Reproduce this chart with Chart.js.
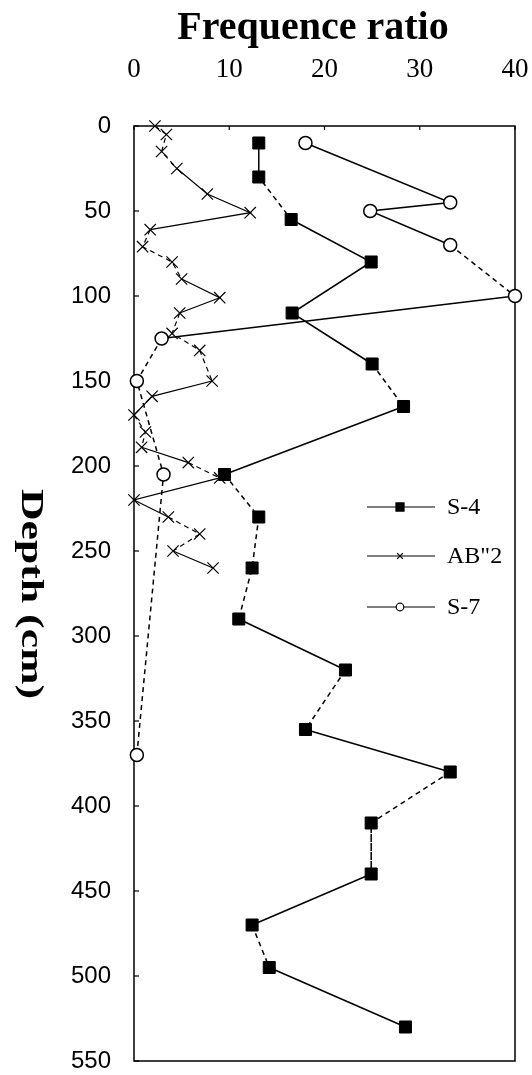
<!DOCTYPE html>
<html><head><meta charset="utf-8">
<script src="https://cdn.jsdelivr.net/npm/chart.js@4/dist/chart.umd.min.js"></script>
<style>html,body{margin:0;padding:0;background:#fff;} #wrap{width:532px;height:1075px;position:relative;}</style>
</head><body><div id="wrap"><canvas id="c" width="532" height="1075"></canvas></div>
<script>
// ---- data ----
const seriesNames = ['S-4', 'AB"2', 'S-7'];
const s4Depth = [10,30,55,80,110,140,165,205,230,260,290,320,355,380,410,440,470,495,530];
const s4Ratio = [13.1,13.1,16.5,24.9,16.6,25.0,28.3,9.5,13.1,12.4,11.0,22.2,18.0,33.2,24.9,24.9,12.4,14.2,28.5];
const ab2Depth = [0,5,15,25,40,51,61,71,80,90,101,110,122,132,150,159,170,180,189,198,207,220,230,240,250,260];
const ab2Ratio = [2.2,3.4,2.9,4.5,7.7,12.2,1.7,0.9,4.0,5.0,9.0,4.8,4.0,6.9,8.2,1.9,0,1.2,0.8,5.7,9.0,0,3.6,6.9,4.1,8.3];
const s7Depth = [10,45,50,70,100,125,150,205,370];
const s7Ratio = [18.0,33.2,24.8,33.2,40,2.9,0.3,3.1,0.3];
const xTicks = [0,10,20,30,40];
const yTicks = [0,50,100,150,200,250,300,350,400,450,500,550];
const xTitle = 'Frequence ratio';
const yTitle = 'Depth (cm)';

// ---- styles (segment dash patterns as in the scan) ----
const s4Dashed = [0,1,5,7,8,9,11,13,14,16];
const ab2Dashed = [0,1,2,6,7,8,11,12,13,16,17,19,22,23];
const s7Dashed = [3,5,6,7];

function pts(xs, ys){ return xs.map((v,i)=>({x:v, y:ys[i]})); }
function dashFn(list){ return ctx => list.includes(ctx.p0DataIndex) ? [5,4] : undefined; }

const datasets = [
  { label: seriesNames[2], data: pts(s7Ratio, s7Depth), borderColor:'#000', borderWidth:1.5,
    pointStyle:'circle', pointRadius:6.5, pointBackgroundColor:'#fff', pointBorderColor:'#000', pointBorderWidth:1.5,
    showLine:true, clip:false, segment:{borderDash: dashFn(s7Dashed)}, legendY: 607, legendR: 3.8 },
  { label: seriesNames[1], data: pts(ab2Ratio, ab2Depth), borderColor:'#000', borderWidth:1.2,
    pointStyle:'crossRot', pointRadius:8, pointBackgroundColor:'#000', pointBorderColor:'#000', pointBorderWidth:1.2,
    showLine:true, clip:false, segment:{borderDash: dashFn(ab2Dashed)}, legendY: 556, legendR: 4 },
  { label: seriesNames[0], data: pts(s4Ratio, s4Depth), borderColor:'#000', borderWidth:1.5,
    pointStyle:'rect', pointRadius:8.5, pointBackgroundColor:'#000', pointBorderColor:'#000', pointBorderWidth:1,
    showLine:true, clip:false, segment:{borderDash: dashFn(s4Dashed)}, legendY: 507, legendR: 5.7 }
];

const framePlugin = {
  id:'frame',
  beforeDatasetsDraw(chart){
    const {ctx, chartArea:a, scales} = chart;
    ctx.save();
    ctx.strokeStyle = '#000'; ctx.lineWidth = 1.5;
    ctx.strokeRect(a.left, a.top, a.right-a.left, a.bottom-a.top);
    ctx.lineWidth = 1.2;
    yTicks.forEach(v=>{ const y = scales.y.getPixelForValue(v);
      ctx.beginPath(); ctx.moveTo(a.left, y); ctx.lineTo(a.left+5, y); ctx.stroke(); });
    xTicks.forEach(v=>{ const x = scales.x.getPixelForValue(v);
      ctx.beginPath(); ctx.moveTo(x, a.top); ctx.lineTo(x, a.top+4); ctx.stroke(); });
    ctx.restore();
  },
  afterDraw(chart){
    const {ctx, chartArea:a} = chart;
    ctx.save();
    ctx.fillStyle = '#000';
    // top title
    ctx.font = 'bold 40px "Liberation Serif"';
    ctx.textAlign = 'center'; ctx.textBaseline = 'alphabetic';
    ctx.fillText(xTitle, 313, 39);
    // y title, reading top-to-bottom
    ctx.font = 'bold 31px "Liberation Serif"';
    const w = ctx.measureText(yTitle).width;
    ctx.translate(22, 594);
    ctx.rotate(Math.PI/2);
    ctx.scale(210/w, 1);
    ctx.fillText(yTitle, 0, 0);
    ctx.restore();
    // legend
    ctx.save();
    chart.data.datasets.forEach(ds=>{
      const y = ds.legendY;
      ctx.strokeStyle = '#000'; ctx.lineWidth = 1.2; ctx.setLineDash([]);
      ctx.beginPath(); ctx.moveTo(a.right-148, y); ctx.lineTo(a.right-80, y); ctx.stroke();
      ctx.fillStyle = ds.pointBackgroundColor; ctx.strokeStyle = '#000'; ctx.lineWidth = 1.2;
      Chart.helpers.drawPoint(ctx, {pointStyle: ds.pointStyle, radius: ds.legendR, rotation:0, borderWidth:1.2}, a.right-115, y);
      ctx.fillStyle = '#000';
      ctx.font = '24px "Liberation Serif"';
      ctx.textAlign = 'left'; ctx.textBaseline = 'middle';
      ctx.fillText(ds.label, a.right-68, y+1);
    });
    ctx.restore();
  }
};

new Chart(document.getElementById('c'), {
  type:'scatter',
  data:{ datasets },
  options:{
    responsive:false, animation:false, devicePixelRatio:1,
    layout:{ padding:{ left:0, top:0, right:17, bottom:14 } },
    plugins:{ legend:{display:false}, tooltip:{enabled:false}, title:{display:false} },
    scales:{
      x:{ type:'linear', position:'top', min:0, max:40,
        afterBuildTicks: s => { s.ticks = xTicks.map(v=>({value:v})); },
        afterFit: s => { s.height = 126; s.paddingLeft = 0; s.paddingRight = 0; s.paddingTop = 0; s.paddingBottom = 0; },
        grid:{ display:false, drawTicks:false }, border:{ display:false },
        ticks:{ color:'#000', padding:40, maxRotation:0, font:{ family:'"Liberation Serif"', size:27 } } },
      y:{ type:'linear', reverse:true, min:0, max:550,
        afterBuildTicks: s => { s.ticks = yTicks.map(v=>({value:v})); },
        afterFit: s => { s.width = 134; s.paddingLeft = 0; s.paddingRight = 0; s.paddingTop = 0; s.paddingBottom = 0; },
        grid:{ display:false, drawTicks:false }, border:{ display:false },
        ticks:{ color:'#000', padding:23, font:{ family:'"Liberation Sans"', size:24 } } }
    }
  },
  plugins:[framePlugin]
});
</script></body></html>
